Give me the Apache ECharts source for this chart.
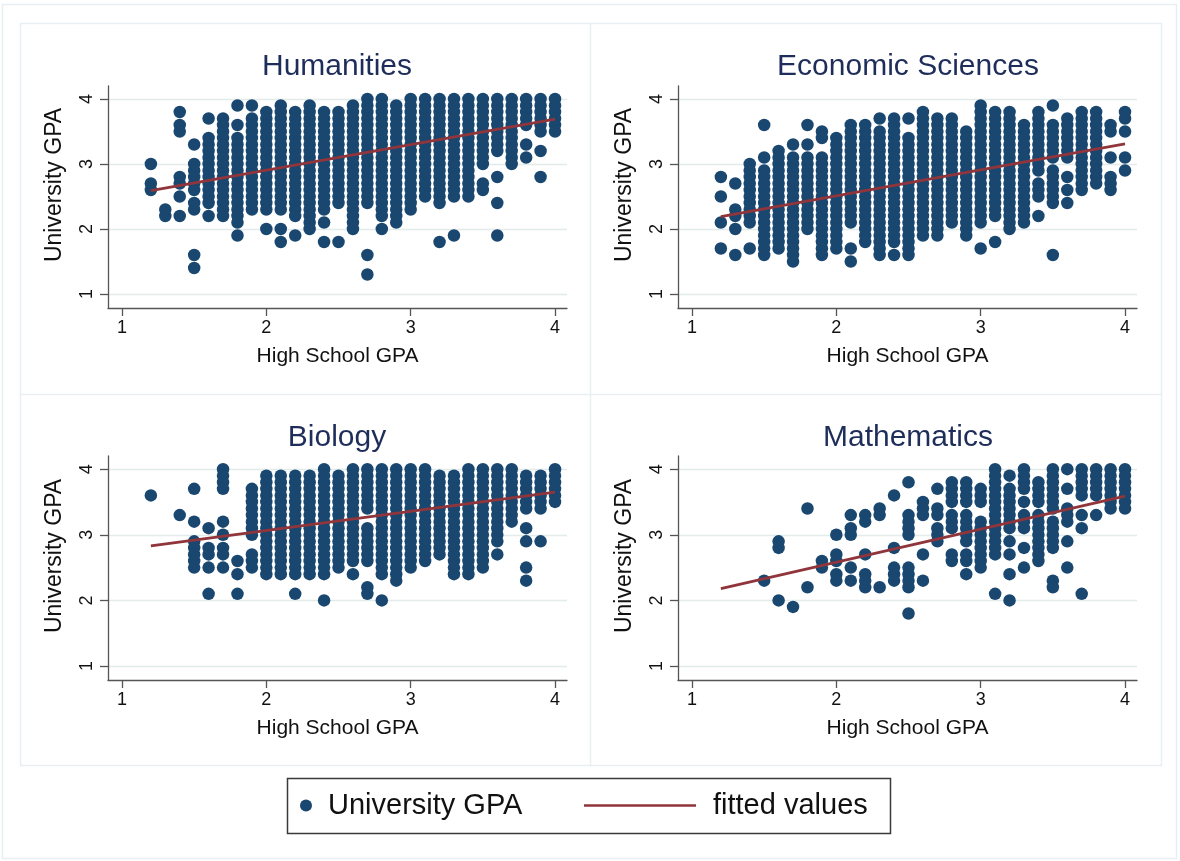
<!DOCTYPE html>
<html>
<head>
<meta charset="utf-8">
<title>University GPA vs High School GPA</title>
<script src="https://cdn.jsdelivr.net/npm/echarts@6/dist/echarts.min.js"></script>
<style>
html,body{margin:0;padding:0;background:#fff;}
#chart{width:1180px;height:861px;}
</style>
</head>
<body>
<div id="chart"></div>
<script>
//high school GPA columns (x axis)
var hsGpa = [1.2,1.3,1.4,1.5,1.6,1.7,1.8,1.9,2.0,2.1,2.2,2.3,2.4,2.5,2.6,2.7,2.8,2.9,3.0,3.1,3.2,3.3,3.4,3.5,3.6,3.7,3.8,3.9,4.0];

//university GPA for each column, in tenths. "40-25" = stack of dots from 4.0 down to 2.5
var humanities = ["30,27,26","23,22","38,36,35,28,27,25,22","33,30,29,28-26,24,23,16,14","37,34-24,22","37-22","39,36,34-21,19","39,37-23","38-23,20","39-23,20,18","38-22,19","39-20","38-23,21,18","38-24,18","39-20","40-24,16,13","40-22,20","39-21","40-23","40-25","40-24,18","40-25,19","40-25","40-30,27,26","40-32,28,24,19","40-30","40-36,33,31","40-35,32,28","40-35"];
var economics = ["28,25,21,17","27,23,22,20,16","30-21,17","36,31,29-16","32-17","33,31-15","36,33,31-20","35,34,31-16","34-17","36-21,17,15","36-18","37,35-16","37-18,16","37,34-16","38-19","37-19","37-21","35-19","39-21,17","38-22,18","38-20","36-21","38-29,27-25,22","39,36-31,29-24,16","37-31,28,26,24","38-26","38-27","36,35,31,28-26","38,37,35,31,29"];
var biology = ["36","","33","37,32,29-25","31,28,27,25,21","40-37,32,30,28,27,25","26,24,21","37-30,27-25","39-24","39-24","39-24,21","39-24","40-24,20","39-25","40-26,24","40-34,31-26,22,21","40-24,20","40-23","40-25","40-26","39-27","39-24","40-24","40-25","40-29,27","40-32","39-34,31,29,25,23","39-34,29","40-35"];
var mathematics = ["","","","23","29,28,20","19","34,22","26,25","30,27,26,24,23","33,31,30,25,23","33,32,27,24-22","34,33,22","36,28,25-23","38,33-30,25-22,18","35-33,27,23","37,34,33,31-29","38-35,33-31,27,26","38-35,33-29,27,26,24","37-35,32-25","40-27,21","39,37-31,29,27,24,20","40-37,35,33-31,28,25","38-35,33-26","40-34,32-28,23,22","40,37,34-32,29,25","40-36,33,31,21","40-36,33","40-34","40-34"];

//fitted values at both ends of the line
var fitX = [1.2, 4.0];
var fitHumanities = [2.59, 3.69];
var fitEconomics = [2.19, 3.31];
var fitBiology = [2.83, 3.65];
var fitMathematics = [2.18, 3.59];

var panelNames = ['Humanities', 'Economic Sciences', 'Biology', 'Mathematics'];
var xTicks = [1, 2, 3, 4];
var yTicks = [1, 2, 3, 4];

(function () {
    var myChart = echarts.init(document.getElementById('chart'));

    //turn the column strings into [x, y] points
    function toPoints(cols) {
        var pts = [];
        cols.forEach(function (spec, i) {
            if (!spec) return;
            spec.split(',').forEach(function (part) {
                var ab = part.split('-');
                var hi = +ab[0], lo = ab.length > 1 ? +ab[1] : hi;
                for (var v = hi; v >= lo; v--) pts.push([hsGpa[i], v / 10]);
            });
        });
        return pts;
    }

    var scatterData = [humanities, economics, biology, mathematics];
    var fitData = [fitHumanities, fitEconomics, fitBiology, fitMathematics];

    var grids = [
        {left: 108, top: 86, width: 459, height: 222},
        {left: 678, top: 86, width: 459, height: 222},
        {left: 108, top: 456, width: 459, height: 224},
        {left: 678, top: 456, width: 459, height: 224}
    ];
    var titlePos = [[332, 47], [903, 47], [332, 418], [903, 418]];
    var font = 'Liberation Sans, Arial, sans-serif';
    var axisColor = '#555';

    var xAxes = [], yAxes = [], series = [], titles = [];
    for (var i = 0; i < 4; i++) {
        titles.push({
            text: panelNames[i],
            left: titlePos[i][0],
            top: titlePos[i][1],
            textAlign: 'center',
            textStyle: {fontFamily: font, fontSize: 30, fontWeight: 'normal', color: '#1e2d59'}
        });
        xAxes.push({
            type: 'value', gridIndex: i,
            min: 0.903, max: 4.083,
            name: 'High School GPA', nameLocation: 'middle', nameGap: 38,
            nameTextStyle: {fontFamily: font, fontSize: 21, color: '#111'},
            axisLine: {show: true, lineStyle: {color: axisColor, width: 1.3}},
            axisTick: {show: true, customValues: xTicks, length: 8, lineStyle: {color: axisColor, width: 1.3}},
            axisLabel: {customValues: xTicks, fontFamily: font, fontSize: 18, color: '#111', margin: 11},
            splitLine: {show: false}
        });
        yAxes.push({
            type: 'value', gridIndex: i,
            min: i < 2 ? 0.785 : 0.787, max: 4.2,
            name: 'University GPA', nameLocation: 'middle', nameGap: 42, nameRotate: 90,
            nameTextStyle: {fontFamily: font, fontSize: 23, color: '#111', padding: [0, 0, 0, 24]},
            axisLine: {show: true, lineStyle: {color: axisColor, width: 1.3}},
            axisTick: {show: true, customValues: yTicks, length: 8, lineStyle: {color: axisColor, width: 1.3}},
            axisLabel: {customValues: yTicks, rotate: 90, fontFamily: font, fontSize: 18, color: '#111', margin: 12},
            splitLine: {show: true, lineStyle: {color: '#e2ecec', width: 1.3}}
        });
        series.push({
            name: 'University GPA', type: 'scatter',
            xAxisIndex: i, yAxisIndex: i,
            symbolSize: 12.5,
            itemStyle: {color: '#1a476f', opacity: 1},
            data: toPoints(scatterData[i]),
            z: 2
        });
        series.push({
            name: 'fitted values', type: 'line',
            xAxisIndex: i, yAxisIndex: i,
            symbol: 'none',
            lineStyle: {color: '#90353b', width: 2.8},
            itemStyle: {color: '#90353b'},
            data: [[fitX[0], fitData[i][0]], [fitX[1], fitData[i][1]]],
            z: 3
        });
    }

    var frameColor = '#e8eff2';
    var option = {
        backgroundColor: '#fff',
        animation: false,
        title: titles,
        grid: grids,
        xAxis: xAxes,
        yAxis: yAxes,
        legend: [
            {
                data: [{name: 'University GPA', icon: 'circle'}],
                left: 295, top: 786,
                itemWidth: 34, itemHeight: 12,
                textStyle: {fontFamily: font, fontSize: 29, color: '#111'},
                selectedMode: false
            },
            {
                data: ['fitted values'],
                left: 579, top: 786,
                itemWidth: 112, itemHeight: 2.6,
                icon: 'rect', symbolKeepAspect: false,
                textStyle: {fontFamily: font, fontSize: 29, color: '#111', padding: [0, 0, 0, 12]},
                selectedMode: false
            }
        ],
        graphic: [
            {type: 'rect', z: -10, shape: {x: 2.5, y: 4.5, width: 1174, height: 854}, style: {fill: '#fff', stroke: frameColor, lineWidth: 1.5}},
            {type: 'rect', z: -9, shape: {x: 20.5, y: 23.5, width: 1141, height: 742}, style: {fill: 'none', stroke: frameColor, lineWidth: 1.5}},
            {type: 'line', z: -9, shape: {x1: 590.5, y1: 23.5, x2: 590.5, y2: 765.5}, style: {stroke: frameColor, lineWidth: 1.5}},
            {type: 'line', z: -9, shape: {x1: 20.5, y1: 394.5, x2: 1161.5, y2: 394.5}, style: {stroke: frameColor, lineWidth: 1.5}},
            {type: 'rect', z: -5, shape: {x: 287.5, y: 778.5, width: 603, height: 55}, style: {fill: '#fff', stroke: '#3a3a3a', lineWidth: 1.5}}
        ],
        series: series
    };
    myChart.setOption(option);
    window.addEventListener('resize', function () {
        myChart.resize();
    });
})();
</script>
</body>
</html>
